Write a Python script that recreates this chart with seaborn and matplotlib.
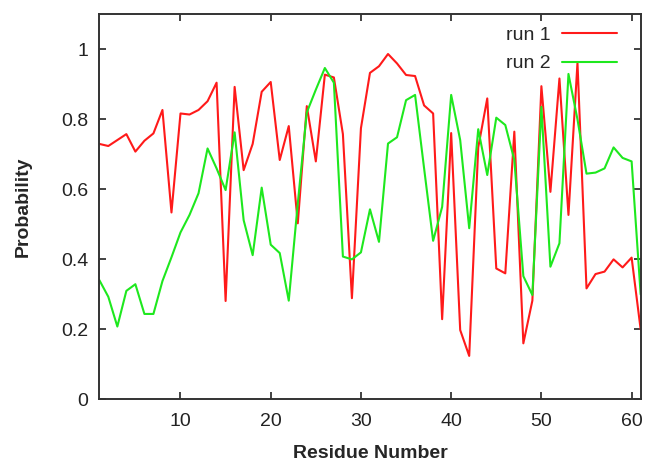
import matplotlib
matplotlib.use("Agg")
import matplotlib.pyplot as plt
import numpy as np
import pandas as pd
import seaborn as sns

# residue index 1..61
residues = list(range(1, 62))

run1 = [0.730, 0.724, 0.741, 0.758, 0.708, 0.739, 0.760, 0.827, 0.534, 0.817,
        0.814, 0.827, 0.852, 0.905, 0.281, 0.893, 0.655, 0.730, 0.879, 0.907,
        0.684, 0.781, 0.503, 0.838, 0.680, 0.928, 0.920, 0.758, 0.289, 0.775,
        0.933, 0.952, 0.987, 0.960, 0.927, 0.924, 0.840, 0.817, 0.229, 0.761,
        0.198, 0.124, 0.720, 0.860, 0.374, 0.360, 0.765, 0.160, 0.282, 0.895,
        0.593, 0.917, 0.527, 0.962, 0.317, 0.358, 0.365, 0.400, 0.377, 0.405,
        0.200]

run2 = [0.341, 0.293, 0.208, 0.310, 0.329, 0.244, 0.244, 0.338, 0.406, 0.477,
        0.527, 0.589, 0.717, 0.660, 0.598, 0.763, 0.512, 0.412, 0.605, 0.442,
        0.418, 0.282, 0.560, 0.820, 0.885, 0.947, 0.905, 0.408, 0.400, 0.420,
        0.543, 0.450, 0.731, 0.749, 0.855, 0.870, 0.660, 0.453, 0.550, 0.870,
        0.741, 0.489, 0.772, 0.641, 0.805, 0.784, 0.684, 0.352, 0.298, 0.836,
        0.379, 0.446, 0.930, 0.800, 0.645, 0.648, 0.660, 0.720, 0.690, 0.680,
        0.300]

series_names = ["run 1", "run 2"]
series_colors = ["#ff1a1a", "#1ee81e"]

df = pd.DataFrame({
    "Residue Number": residues * 2,
    "Probability": run1 + run2,
    "series": [series_names[0]] * len(residues) + [series_names[1]] * len(residues),
})

sns.set_style("ticks")
plt.rcParams["font.family"] = ["Liberation Sans", "DejaVu Sans"]

fig = plt.figure(figsize=(6.46, 4.62), dpi=100)
ax = fig.add_axes([0.1537, 0.1357, 0.838, 0.833])

sns.lineplot(data=df, x="Residue Number", y="Probability", hue="series",
             palette=series_colors, linewidth=1.5, ax=ax)

ax.set_xlim(1, 61)
ax.set_ylim(0, 1.1)
ax.set_xticks([10, 20, 30, 40, 50, 60])
ax.set_yticks([0, 0.2, 0.4, 0.6, 0.8, 1.0])
ax.set_yticklabels(["0", "0.2", "0.4", "0.6", "0.8", "1"])
ax.tick_params(direction="in", top=True, right=True, length=5, width=1.2,
               labelsize=14, colors="#222222")
ax.tick_params(axis="x", pad=10)
ax.tick_params(axis="y", pad=8)
for sp in ax.spines.values():
    sp.set_visible(True)
    sp.set_linewidth(1.4)
    sp.set_color("#333333")

ax.set_xlabel("Residue Number", fontsize=14, fontweight="bold", labelpad=11)
ax.set_ylabel("Probability", fontsize=14, fontweight="bold", labelpad=21)

leg = ax.legend(loc="upper right", bbox_to_anchor=(1 - 24 / 542, 1 - 12 / 385),
                frameon=False, markerfirst=False, handlelength=2.8,
                fontsize=14, borderaxespad=0, borderpad=0,
                labelspacing=0.55, handletextpad=0.6)
for h in leg.get_lines():
    h.set_linewidth(1.5)

fig.savefig("out.png", dpi=100)
